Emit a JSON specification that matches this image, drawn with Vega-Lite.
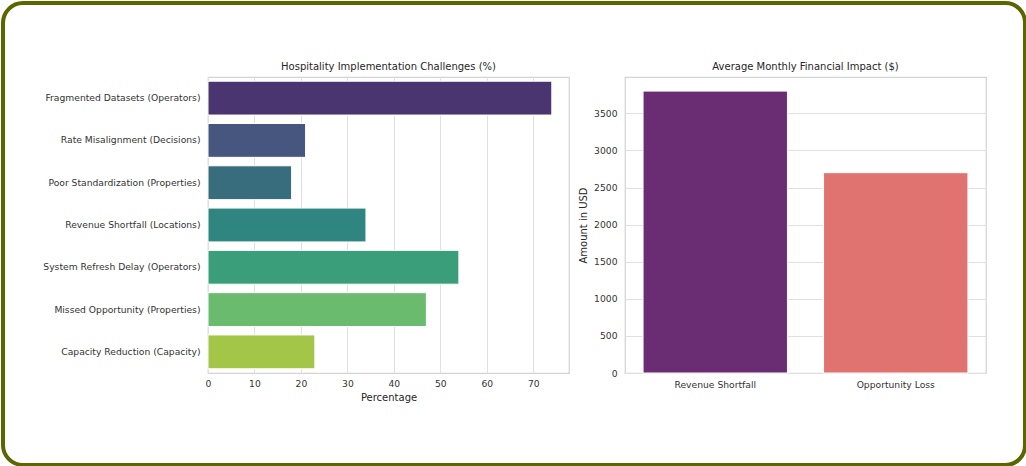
{
  "$schema": "https://vega.github.io/schema/vega-lite/v6.json",
  "padding": 0,
  "background": "white",
  "config": {
    "font": "DejaVu Sans",
    "view": {"stroke": "#d4d4d4", "strokeWidth": 1.25},
    "title": {"font": "DejaVu Sans", "fontSize": 10, "fontWeight": "normal", "color": "#262626", "offset": 5},
    "axis": {
      "labelFont": "DejaVu Sans",
      "labelFontSize": 9.2,
      "labelColor": "#333333",
      "labelFlush": false,
      "titleFont": "DejaVu Sans",
      "titleFontSize": 10,
      "titleFontWeight": "normal",
      "titleColor": "#262626",
      "ticks": false,
      "domain": false,
      "gridColor": "#e0e0e0",
      "gridWidth": 1,
      "labelPadding": 7
    },
    "bar": {"stroke": "white", "strokeWidth": 1},
    "style": {
      "frame-tl": {"cornerRadiusTopLeft": 20},
      "frame-tr": {"cornerRadiusTopRight": 20},
      "frame-bl": {"cornerRadiusBottomLeft": 20},
      "frame-br": {"cornerRadiusBottomRight": 20}
    }
  },
  "datasets": {"blank": [{}]},
  "resolve": {"scale": {"color": "independent"}},
  "bounds": "flush",
  "spacing": 0,
  "columns": 5,
  "concat": [
    {
      "width": 205, "height": 74,
      "view": {"style": "frame-tl", "stroke": "#5c6600", "strokeWidth": 4, "strokeDash": [185, 279, 100], "fill": null},
      "data": {"name": "blank"}, "mark": {"type": "rule", "opacity": 0}, "encoding": {}
    },
    {
      "width": 361, "height": 74,
      "view": {"stroke": "#5c6600", "strokeWidth": 4, "strokeDash": [361, 900], "fill": null},
      "data": {"name": "blank"}, "mark": {"type": "rule", "opacity": 0}, "encoding": {}
    },
    {
      "width": 56, "height": 74,
      "view": {"stroke": "#5c6600", "strokeWidth": 4, "strokeDash": [56, 400], "fill": null},
      "data": {"name": "blank"}, "mark": {"type": "rule", "opacity": 0}, "encoding": {}
    },
    {
      "width": 361, "height": 74,
      "view": {"stroke": "#5c6600", "strokeWidth": 4, "strokeDash": [361, 900], "fill": null},
      "data": {"name": "blank"}, "mark": {"type": "rule", "opacity": 0}, "encoding": {}
    },
    {
      "width": 39, "height": 74,
      "view": {"style": "frame-tr", "stroke": "#5c6600", "strokeWidth": 4, "strokeDash": [104.6, 300], "fill": null},
      "data": {"name": "blank"}, "mark": {"type": "rule", "opacity": 0}, "encoding": {}
    },
    {
      "width": 205, "height": 296,
      "view": {"stroke": "#5c6600", "strokeWidth": 4, "strokeDash": [0, 706, 296], "fill": null},
      "data": {"name": "blank"}, "mark": {"type": "rule", "opacity": 0}, "encoding": {}
    },
    {
      "width": 361,
      "height": 296,
      "title": "Hospitality Implementation Challenges (%)",
      "data": {
        "values": [
          {"challenge": "Fragmented Datasets (Operators)", "pct": 74},
          {"challenge": "Rate Misalignment (Decisions)", "pct": 21},
          {"challenge": "Poor Standardization (Properties)", "pct": 18},
          {"challenge": "Revenue Shortfall (Locations)", "pct": 34},
          {"challenge": "System Refresh Delay (Operators)", "pct": 54},
          {"challenge": "Missed Opportunity (Properties)", "pct": 47},
          {"challenge": "Capacity Reduction (Capacity)", "pct": 23}
        ]
      },
      "mark": {"type": "bar"},
      "encoding": {
        "y": {
          "field": "challenge",
          "type": "nominal",
          "sort": null,
          "scale": {"paddingInner": 0.2, "paddingOuter": 0.1},
          "axis": {"title": null, "grid": false, "labelPadding": 8}
        },
        "x": {
          "field": "pct",
          "type": "quantitative",
          "scale": {"domain": [0, 77.7], "nice": false},
          "axis": {"title": "Percentage", "values": [0, 10, 20, 30, 40, 50, 60, 70], "grid": true, "labelPadding": 6, "titlePadding": 4}
        },
        "color": {
          "field": "challenge",
          "type": "nominal",
          "sort": null,
          "legend": null,
          "scale": {"range": ["#4b3571", "#46567f", "#386d7e", "#2f8580", "#3a9e7b", "#6bbb6e", "#a3c548"]}
        }
      }
    },
    {
      "width": 56, "height": 296,
      "view": {"stroke": null, "fill": null},
      "data": {"name": "blank"}, "mark": {"type": "rule", "opacity": 0}, "encoding": {}
    },
    {
      "width": 361,
      "height": 296,
      "title": "Average Monthly Financial Impact ($)",
      "data": {
        "values": [
          {"impact": "Revenue Shortfall", "amount": 3800},
          {"impact": "Opportunity Loss", "amount": 2700}
        ]
      },
      "mark": {"type": "bar"},
      "encoding": {
        "x": {
          "field": "impact",
          "type": "nominal",
          "sort": null,
          "scale": {"paddingInner": 0.2, "paddingOuter": 0.1},
          "axis": {"title": null, "labelAngle": 0, "grid": false, "labelPadding": 7}
        },
        "y": {
          "field": "amount",
          "type": "quantitative",
          "scale": {"domain": [0, 3990], "nice": false},
          "axis": {"title": "Amount in USD", "format": "d", "values": [0, 500, 1000, 1500, 2000, 2500, 3000, 3500], "grid": true, "labelPadding": 8, "titlePadding": 5}
        },
        "color": {
          "field": "impact",
          "type": "nominal",
          "sort": null,
          "legend": null,
          "scale": {"range": ["#6a2c72", "#e07270"]}
        }
      }
    },
    {
      "width": 39, "height": 296,
      "view": {"stroke": "#5c6600", "strokeWidth": 4, "strokeDash": [0, 39, 296, 600], "fill": null},
      "data": {"name": "blank"}, "mark": {"type": "rule", "opacity": 0}, "encoding": {}
    },
    {
      "width": 205, "height": 92,
      "view": {"style": "frame-bl", "stroke": "#5c6600", "strokeWidth": 4, "strokeDash": [0, 297, 300], "fill": null},
      "data": {"name": "blank"}, "mark": {"type": "rule", "opacity": 0}, "encoding": {}
    },
    {
      "width": 361, "height": 92,
      "view": {"stroke": "#5c6600", "strokeWidth": 4, "strokeDash": [0, 453, 361, 300], "fill": null},
      "data": {"name": "blank"}, "mark": {"type": "rule", "opacity": 0}, "encoding": {}
    },
    {
      "width": 56, "height": 92,
      "view": {"stroke": "#5c6600", "strokeWidth": 4, "strokeDash": [0, 148, 56, 300], "fill": null},
      "data": {"name": "blank"}, "mark": {"type": "rule", "opacity": 0}, "encoding": {}
    },
    {
      "width": 361, "height": 92,
      "view": {"stroke": "#5c6600", "strokeWidth": 4, "strokeDash": [0, 453, 361, 300], "fill": null},
      "data": {"name": "blank"}, "mark": {"type": "rule", "opacity": 0}, "encoding": {}
    },
    {
      "width": 39, "height": 92,
      "view": {"style": "frame-br", "stroke": "#5c6600", "strokeWidth": 4, "strokeDash": [0, 39, 122.7, 300], "fill": null},
      "data": {"name": "blank"}, "mark": {"type": "rule", "opacity": 0}, "encoding": {}
    }
  ]
}
